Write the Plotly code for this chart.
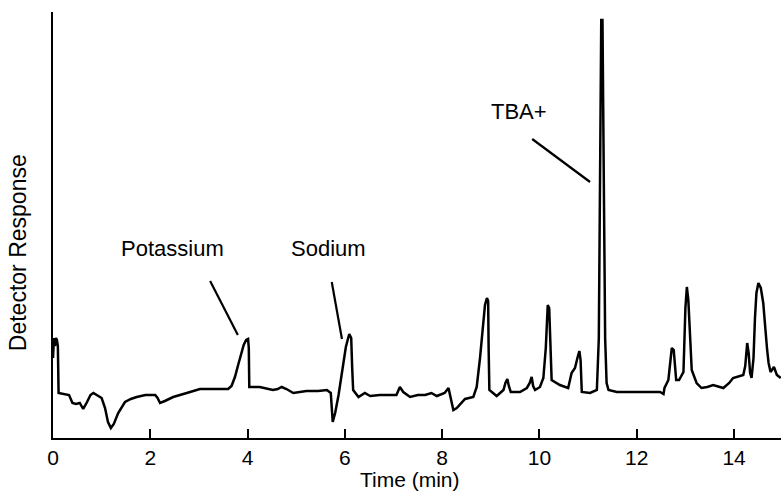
import plotly.graph_objects as go

# Chromatogram trace: time (min) and detector response (arbitrary units)
time_min = [
    0.00, 0.02, 0.04, 0.06, 0.08, 0.10, 0.115, 0.20, 0.33, 0.40, 0.47, 0.55, 0.62, 0.70,
    0.77, 0.83, 0.90, 1.00, 1.07, 1.13, 1.19, 1.25, 1.34, 1.48, 1.60, 1.72, 1.90, 2.10,
    2.15, 2.20, 2.30, 2.47, 2.75, 3.02, 3.30, 3.60, 3.67, 3.74, 3.80, 3.86, 3.92, 3.97,
    4.01, 4.025, 4.035, 4.25, 4.52, 4.62, 4.70, 4.80, 4.94, 5.21, 5.45, 5.63, 5.71, 5.75,
    5.80, 5.87, 5.93, 6.02, 6.09, 6.13, 6.15, 6.17, 6.28, 6.41, 6.52, 6.72, 6.90, 7.06,
    7.13, 7.20, 7.34, 7.50, 7.65, 7.78, 7.89, 8.05, 8.13, 8.18, 8.23, 8.30, 8.47, 8.64,
    8.71, 8.78, 8.83, 8.88, 8.92, 8.945, 8.955, 8.97, 9.12, 9.26, 9.30, 9.34, 9.37, 9.41,
    9.60, 9.74, 9.80, 9.84, 9.87, 9.91, 10.01, 10.08, 10.13, 10.17, 10.20, 10.23, 10.25, 10.42,
    10.59, 10.66, 10.73, 10.78, 10.82, 10.845, 10.87, 11.04, 11.18, 11.22, 11.25, 11.27, 11.295, 11.32,
    11.35, 11.38, 11.42, 11.59, 11.93, 12.20, 12.48, 12.55, 12.57, 12.65, 12.69, 12.72, 12.76, 12.79,
    12.81, 12.87, 12.96, 13.00, 13.03, 13.06, 13.09, 13.13, 13.23, 13.33, 13.45, 13.57, 13.78, 13.90,
    13.98, 14.10, 14.19, 14.23, 14.27, 14.30, 14.33, 14.36, 14.40, 14.43, 14.46, 14.50, 14.55, 14.60,
    14.64, 14.68, 14.71, 14.75, 14.82, 14.88, 14.96,
]
response = [
    80, 100, 92, 100, 98, 92, 45, 44, 43, 35, 34, 35, 29, 36,
    43, 45, 43, 40, 30, 16, 10, 14, 25, 36, 39, 41, 43, 43,
    40, 35, 37, 41, 45, 49, 49, 49, 52, 61, 72, 83, 93, 98,
    99, 90, 51, 51, 48, 49, 51, 49, 45, 47, 47, 48, 45, 16,
    25, 43, 61, 91, 104, 100, 70, 48, 41, 45, 42, 43, 43, 43,
    51, 46, 41, 43, 43, 45, 42, 45, 50, 40, 28, 30, 39, 41,
    51, 81, 111, 133, 140, 137, 90, 48, 42, 48, 55, 59, 52, 46,
    46, 50, 55, 61, 52, 48, 51, 60, 90, 133, 130, 90, 58, 53,
    50, 65, 70, 80, 87, 78, 46, 45, 48, 100, 300, 418, 418, 300,
    100, 55, 48, 46, 46, 46, 46, 44, 50, 58, 80, 90, 88, 70,
    58, 58, 66, 130, 151, 138, 100, 68, 55, 50, 51, 53, 50, 55,
    60, 62, 63, 72, 95, 85, 65, 60, 80, 120, 145, 155, 150, 135,
    108, 88, 75, 66, 71, 63, 60,
]

# Axis ticks
x_ticks = [0, 2, 4, 6, 8, 10, 12, 14]
x_tick_labels = ["0", "2", "4", "6", "8", "10", "12", "14"]

# Peak labels
peak_names = ["Potassium", "Sodium", "TBA+"]

FONT = "Liberation Sans, Arial, Helvetica, sans-serif"

fig = go.Figure()
fig.add_trace(go.Scatter(
    x=time_min, y=response, mode="lines",
    line=dict(color="black", width=2.5),
    showlegend=False, hoverinfo="skip",
))

# label text positions (data coords) and leader lines (data coords)
label_pos = [(2.45, 190), (5.66, 190), (9.57, 327)]
leader = [((3.23, 157), (3.80, 103)), ((5.73, 156), (5.94, 99)), ((9.85, 299), (11.04, 256))]

for name, (lx, ly), ((x0, y0), (x1, y1)) in zip(peak_names, label_pos, leader):
    fig.add_annotation(x=lx, y=ly, xref="x", yref="y", text=name, showarrow=False,
                       font=dict(family=FONT, size=22, color="black"),
                       xanchor="center", yanchor="middle")
    fig.add_shape(type="line", xref="x", yref="y", x0=x0, y0=y0, x1=x1, y1=y1,
                  line=dict(color="black", width=2.2))

fig.add_annotation(x=-0.048, y=0.434, xref="paper", yref="paper", text="Detector Response",
                   textangle=-90, showarrow=False,
                   font=dict(family=FONT, size=23, color="black"),
                   xanchor="center", yanchor="middle")
fig.add_annotation(x=0.49, y=-0.098, xref="paper", yref="paper", text="Time (min)",
                   showarrow=False, font=dict(family=FONT, size=21, color="black"),
                   xanchor="center", yanchor="middle")

fig.update_layout(
    width=781, height=492,
    margin=dict(l=53, r=0, t=12, b=54),
    paper_bgcolor="white", plot_bgcolor="white",
    font=dict(family=FONT, size=21, color="black"),
    xaxis=dict(range=[0, 14.965], showgrid=False, zeroline=False,
               showline=True, linecolor="black", linewidth=2,
               ticks="inside", ticklen=9, tickwidth=2, tickcolor="black",
               tickvals=x_ticks, ticktext=x_tick_labels,
               tickfont=dict(family=FONT, size=21, color="black")),
    yaxis=dict(range=[0, 426], showgrid=False, zeroline=False,
               showline=True, linecolor="black", linewidth=2,
               showticklabels=False, ticks=""),
)

fig.write_html("out.html")
